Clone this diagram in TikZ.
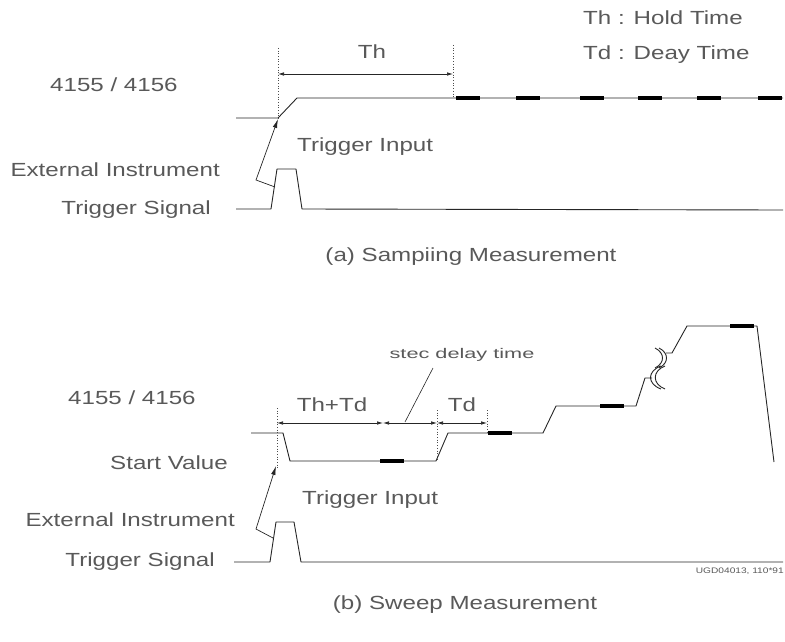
\documentclass[tikz,border=0pt]{standalone}
\usepackage{fontspec}
\setmainfont{Liberation Sans}[FakeStretch=1.27]
\newfontfamily\widefont{Liberation Sans}[FakeStretch=1.55]
\usetikzlibrary{arrows.meta,positioning}

\begin{document}
\begin{tikzpicture}[x=1pt,y=-1pt,
   every node/.style={text=black!65, inner sep=0pt},
   lbl/.style={font=\fontsize{19}{21}\selectfont},
   sig/.style={black!85, line width=0.9pt, line join=round},
   hold/.style={black, line width=3.5pt},
   guide/.style={black!70, dotted, line width=0.7pt},
   dim/.style={{Latex[length=6pt,width=3.5pt]}-{Latex[length=6pt,width=3.5pt]}, black!85, line width=0.7pt},
   trig/.style={-{Latex[length=9pt,width=4.5pt]}, black!85, line width=0.7pt}]
\useasboundingbox (0,0) rectangle (785,642);

% (a) sampling
\node[lbl, anchor=west] (key1) at (583,18) {Th : Hold Time};
\node[lbl, anchor=west] (key2) at (583,55) {Td : Deay Time};
\node[lbl, anchor=west] (inst1) at (50,85) {4155 / 4156};
\node[lbl, anchor=east] (ext1) at (220,170) {External Instrument};
\node[lbl, anchor=east] (trs1) at (211,210) {Trigger Signal};
\node[lbl, anchor=west] (tin1) at (297,147) {Trigger Input};
\node[lbl] (th1) at (372,52) {Th};
\node[lbl] (cap1) at (471,257) {(a) Sampiing Measurement};

\coordinate (hit1) at (278,119);
\coordinate (pulse1) at (275,187);
\coordinate (th1a) at (278,74);
\coordinate (th1b) at (453,74);

\draw[sig] (236,118) -- (278,118) -- (297,98) -- (783,98);
\foreach \a in {456,516,580,638,697,758}
   \draw[hold] (\a,98) -- ++(24,0);
\draw[guide] (278,48) -- (278,120);
\draw[guide] (453,45) -- (453,98);
\draw[dim] (th1a) -- (th1b);
\draw[sig] (236,209) -- (271,209) -- (277,169) -- (296,169) -- (302,209) -- (783,210);
\draw[trig] (pulse1) -- (256,180) -- (hit1);

% (b) sweep
\node[lbl, anchor=west] (inst2) at (68,398) {4155 / 4156};
\node[lbl, anchor=east] (start) at (228,463) {Start Value};
\node[lbl, anchor=east] (ext2) at (235,520) {External Instrument};
\node[lbl, anchor=east] (trs2) at (215,562) {Trigger Signal};
\node[lbl, anchor=west] (tin2) at (302,500) {Trigger Input};
\node[lbl] (thtd) at (332,405) {Th+Td};
\node[lbl] (td) at (462,405) {Td};
\node[font=\widefont\fontsize{14}{16}\selectfont] (sdt) at (462,355) {stec delay time};
\node[lbl] (cap2) at (465,605) {(b) Sweep Measurement};
\node[font=\fontsize{8}{9}\selectfont, anchor=east] (code) at (784,571) {UGD04013, 110*91};

\coordinate (hit2) at (276,466);
\coordinate (pulse2) at (273,538);
\coordinate (d0) at (277,423);
\coordinate (d1) at (383,423);
\coordinate (d2) at (437,423);
\coordinate (d3) at (487,423);

\draw[sig] (251,433) -- (283,433) -- (290,461) -- (436,461) -- (448,433) -- (543,433)
   -- (556,406) -- (636,406) -- (645,378) -- (652,378);
\draw[sig] (666,353) -- (672,353) -- (687,326) -- (757,326) -- (774,462);
% break marks
\draw[sig] (661,366) .. controls (647,371) and (647,384) .. (661,389);
\draw[sig] (665,366) .. controls (652,371) and (652,384) .. (665,389);
\draw[sig] (655,348) .. controls (665,353) and (665,363) .. (655,368);
\draw[sig] (659,348) .. controls (669,353) and (669,363) .. (659,368);
\foreach \a/\b in {380/461,488/433,600/406,730/326}
   \draw[hold] (\a,\b) -- ++(24,0);
\draw[guide] (277,408) -- (277,470);
\draw[guide] (437,410) -- (437,461);
\draw[guide] (487,410) -- (487,433);
\draw[dim] (d0) -- (d1);
\draw[dim] (d1) -- (d2);
\draw[dim] (d2) -- (d3);
\draw[sig, line width=0.6pt] (433,368) -- (405,422);
\draw[sig] (234,562) -- (270,562) -- (276,522) -- (294,522) -- (301,562) -- (783,562);
\draw[trig] (pulse2) -- (256,529) -- (hit2);
\end{tikzpicture}
\end{document}
